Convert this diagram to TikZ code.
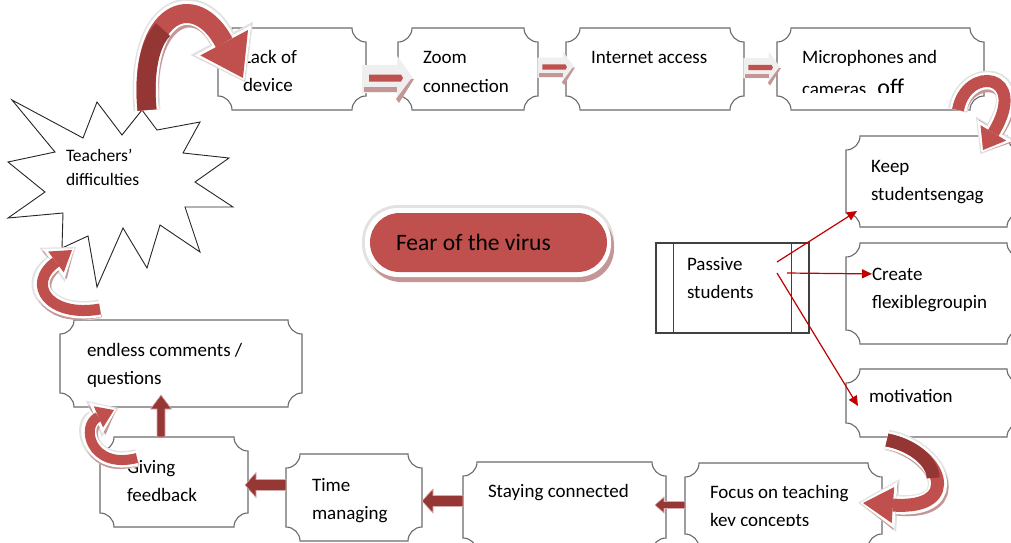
\documentclass[tikz,border=0pt]{standalone}
\usepackage{fontspec}
\setmainfont{Carlito}
\usetikzlibrary{arrows.meta,calc}
\definecolor{acc}{HTML}{C0504D}
\definecolor{accdark}{HTML}{943634}
\definecolor{blockred}{HTML}{953735}
\definecolor{linered}{HTML}{C00000}
\definecolor{boxgray}{HTML}{6A6A6A}
\definecolor{shpink}{HTML}{C49696}
\definecolor{glowgray}{HTML}{E2E2E2}
\definecolor{lightglow}{HTML}{EFEFEF}
\definecolor{blockedge}{HTML}{D8AAAA}
\tikzset{
  boxline/.style={draw=boxgray, line width=1.1pt, fill=white},
  anchorbox/.style={inner sep=0pt, outer sep=0pt, draw=none, fill=none},
  txt/.style={anchor=base west, inner sep=0pt, outer sep=0pt, font=\fontsize{19}{23}\selectfont},
  smalltxt/.style={txt, font=\fontsize{17.5}{21}\selectfont},
  thinarrow/.style={draw=linered, line width=1.2pt, -{Triangle[length=10pt,width=9pt]}},
  starline/.style={draw=black!85, line width=0.9pt, fill=white},
  passline/.style={draw=black!75, line width=1.1pt},
}
% plaque box: name, x1, y1, x2, y2 (pixel coordinates, y downwards)
\newcommand\plaque[5]{%
  \node[anchorbox, minimum width={#4-#2}, minimum height={#5-#3}] (#1) at ({(#2+#4)/2},{(#3+#5)/2}) {};
  \draw[boxline] ({#2+14},#3) -- ({#4-14},#3)
    .. controls ({#4-14},{#3+7.7}) and ({#4-7.7},{#3+14}) .. (#4,{#3+14})
    -- (#4,{#5-14})
    .. controls ({#4-7.7},{#5-14}) and ({#4-14},{#5-7.7}) .. ({#4-14},#5)
    -- ({#2+14},#5)
    .. controls ({#2+14},{#5-7.7}) and ({#2+7.7},{#5-14}) .. (#2,{#5-14})
    -- (#2,{#3+14})
    .. controls ({#2+7.7},{#3+14}) and ({#2+14},{#3+7.7}) .. cycle;
}
% fat curved arrow: path, colour, width, tip length, tip width
\newcommand\fatcurve[5]{%
  \pgfmathsetmacro\fcwa{#3+8}\pgfmathsetmacro\fcla{#4+10}\pgfmathsetmacro\fcWa{#5+17}%
  \pgfmathsetmacro\fcwb{#3+5}\pgfmathsetmacro\fclb{#4+6}\pgfmathsetmacro\fcWb{#5+11}%
  \draw[glowgray, line width=\fcwa pt, shorten >=-5pt, -{Triangle[length=\fcla pt, width=\fcWa pt, line width=0pt 0 0]}] #1;
  \draw[shpink, line width=\fcwb pt, shorten >=-3pt, -{Triangle[length=\fclb pt, width=\fcWb pt, line width=0pt 0 0]}, shift={(2pt,-4pt)}] #1;
  \draw[white, line width=\fcwb pt, shorten >=-3pt, -{Triangle[length=\fclb pt, width=\fcWb pt, line width=0pt 0 0]}] #1;
  \draw[#2, line width=#3pt, -{Triangle[length=#4pt, width=#5pt, line width=0pt 0 0]}] #1;
}
% dark block arrow: tip coordinate, rotation, total length, head length, head half height, shaft half height
\newcommand\blockarrow[6]{%
  \begin{scope}[shift={#1}, rotate=#2]
    \filldraw[fill=blockred, draw=blockedge, line width=0.6pt] (0,0) -- (#4,-#5) -- (#4,-#6) -- (#3,-#6) -- (#3,#6) -- (#4,#6) -- (#4,#5) -- cycle;
  \end{scope}}
% light striped arrow of the top row: origin, scale
\newcommand\toparrow[2]{%
  \begin{scope}[shift={#1}, scale=#2]
    \fill[lightglow] (-5,-13) -- (30,-13) -- (30,-22) -- (47,1) -- (30,24) -- (30,15) -- (-5,15) -- cycle;
    \fill[shpink] (-3,9) rectangle (30,14);
    \fill[shpink] (29,21) -- (44,1) -- (47,1) -- (32,25) -- cycle;
    \fill[acc] (2,-3.5) -- (34,-3.5) -- (36,0) -- (34,3.5) -- (2,3.5) -- cycle;
  \end{scope}}

\begin{document}
\begin{tikzpicture}[x=1pt,y=-1pt]
\useasboundingbox (0,0) rectangle (1011,542);
\clip (0,0) rectangle (1011,542);

% ---------- boxes ----------
\plaque{lack}{218}{28}{366}{110}
\plaque{zoom}{398}{28}{538}{110}
\plaque{inet}{566}{28}{744}{110}
\plaque{mic}{777}{28}{984}{110}
\plaque{keep}{846}{136}{1021}{227}
\plaque{create}{846}{243}{1021}{344}
\plaque{motiv}{846}{369}{1021}{437}
\plaque{endless}{60}{320}{302}{407}
\plaque{giving}{100}{437}{248}{527}
\plaque{time}{286}{454}{422}{541}
\plaque{stay}{463}{462}{666}{552}
\plaque{focus}{685}{463}{882}{548}

% passive students (predefined process)
\node[passline, fill=white, minimum width=153, minimum height=90, inner sep=0pt] (passive) at (732.5,288) {};
\draw[passline] ($(passive.north west)+(18,0)$) -- ($(passive.south west)+(18,0)$);
\draw[passline] ($(passive.north east)+(-18,0)$) -- ($(passive.south east)+(-18,0)$);

% starburst
\node[anchorbox, minimum width=180, minimum height=150] (star) at (120,190) {};
\draw[starline] (12,100) -- (83,138) -- (97,102) -- (122,135) -- (142,110) -- (157,130)
  -- (200,122) -- (183,153) -- (229,158) -- (195,182) -- (233,207) -- (185,207)
  -- (200,252) -- (160,225) -- (147,268) -- (123,228) -- (97,287) -- (88,236)
  -- (62,248) -- (63,213) -- (8,218) -- (45,192) -- (8,162) -- (55,152) -- cycle;

% ---------- texts ----------
\node[smalltxt] (starA) at (66,161) {Teachers’};
\node[smalltxt] (starB) at (66,185) {difficulties};
\node[txt] (lackA) at (243,63) {Lack of};
\node[txt] (lackB) at (243,91) {device};
\node[txt] (zoomA) at (423,63) {Zoom};
\node[txt] (zoomB) at (423,92) {connection};
\node[txt] (inetA) at (591,63) {Internet access};
\node[txt] (micA) at (802,63) {Microphones and};
\begin{scope}
  \clip (780,40) rectangle (980,92.5);
  \node[txt] (micB) at (802,95) {cameras\hspace{11pt}{\fontsize{24}{28}\selectfont off}};
\end{scope}
\node[txt] (keepA) at (871,172) {Keep};
\node[txt] (keepB) at (871,200) {studentsengag};
\node[txt] (createA) at (872,280) {Create};
\node[txt] (createB) at (872,308) {flexiblegroupin};
\node[txt] (motivA) at (869,402) {motivation};
\node[txt] (passA) at (687,270) {Passive};
\node[txt] (passB) at (687,298) {students};
\node[txt] (focusA) at (710,498) {Focus on teaching};
\begin{scope}
  \clip (690,470) rectangle (880,525);
  \node[txt] (focusB) at (710,526) {key concepts};
\end{scope}
\node[txt] (stayA) at (488,497) {Staying connected};
\node[txt] (timeA) at (312,491) {Time};
\node[txt] (timeB) at (312,519) {managing};
\node[txt] (givingA) at (127,473) {Giving};
\node[txt] (givingB) at (127,501) {feedback};
\node[txt] (endlessA) at (87,356) {endless comments /};
\node[txt] (endlessB) at (87,384) {questions};

% ---------- thin red connectors ----------
\coordinate (pk) at (777,262);
\coordinate (pc) at (787,273);
\coordinate (pm) at (777,273);
\coordinate (kt) at (857,211);
\coordinate (mt) at (858,406);
\draw[thinarrow] (pk) -- (kt);
\draw[thinarrow] (pc) -- (createA.west);
\draw[thinarrow] (pm) -- (mt);

% ---------- top row arrows ----------
\toparrow{($(lack.east)+(1,9)$)}{1}
\toparrow{($(zoom.east)+(3,-2)$)}{0.72}
\toparrow{($(inet.east)+(3,-1.5)$)}{0.72}

% ---------- bottom row block arrows ----------
\blockarrow{($(stay.east)+(-11,-2)$)}{0}{30}{9}{8}{3.5}
\blockarrow{($(time.east)+(0,3.5)$)}{0}{41}{11}{12}{5.5}
\blockarrow{($(giving.east)+(-3,3)$)}{0}{41}{11}{12.5}{5.5}
\blockarrow{($(endless.south)+(-20,-12)$)}{-90}{42}{14}{10.5}{4}

% ---------- fear of the virus ----------
\fill[glowgray, rounded corners=36pt] (362,205) rectangle (614,280);
\fill[shpink, rounded corners=33pt] (368,213) rectangle (614,282);
\fill[white, rounded corners=33pt] (365,208) rectangle (611,277);
\node[fill=acc, rounded corners=29.5pt, minimum width=237, minimum height=59, inner sep=0pt] (fear) at (488.5,242.5) {};
\node[txt, font=\fontsize{23.5}{28}\selectfont] (fearA) at (396,250) {Fear of the virus};

% ---------- fat curved arrows ----------
\coordinate (a0) at (147,110);
\coordinate (a1) at (243,78);
\fatcurve{(a0) .. controls (138,10) and (195,-12) .. (a1)}{acc}{19}{40}{54}
\draw[accdark, line width=19pt] (a0) .. controls (143.4,70) and (150.36,42.48) .. (163.08,29.62);

\coordinate (b0) at (958,110);
\coordinate (b1) at (983,150);
\fatcurve{(b0) .. controls (966,65) and (1030,72) .. (b1)}{acc}{12}{20}{30}

\coordinate (c0) at (887,440);
\coordinate (c1) at (863,503);
\fatcurve{(c0) .. controls (940,450) and (965,510) .. (c1)}{acc}{13}{30}{36}
\draw[accdark, line width=13pt] (c0) .. controls (913.5,445) and (933,462.5) .. (933.1,477.9);

\coordinate (d0) at (100,309);
\coordinate (d1) at (72,250);
\fatcurve{(d0) .. controls (50,318) and (25,285) .. (d1)}{acc}{11}{20}{26}

\coordinate (e0) at (137,458);
\coordinate (e1) at (114,410);
\fatcurve{(e0) .. controls (90,470) and (80,425) .. (e1)}{acc}{10}{17}{23}

\end{tikzpicture}
\end{document}
